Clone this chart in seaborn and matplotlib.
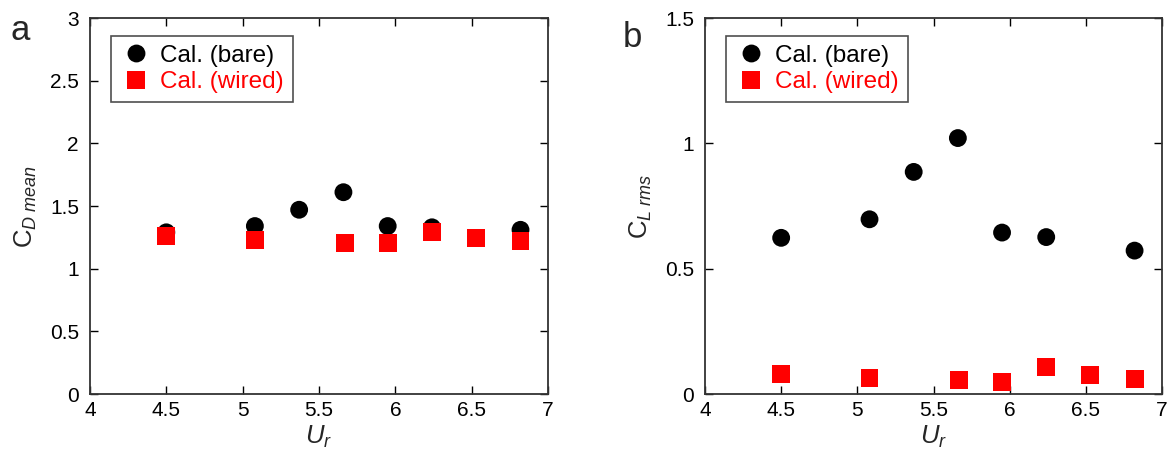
import matplotlib
matplotlib.use("Agg")
import matplotlib.pyplot as plt
import seaborn as sns
import pandas as pd

# ---- data ----
ur_bare = [4.50, 5.08, 5.37, 5.66, 5.95, 6.24, 6.82]
cd_bare = [1.29, 1.34, 1.47, 1.61, 1.34, 1.33, 1.31]
cl_bare = [0.623, 0.697, 0.886, 1.021, 0.644, 0.626, 0.572]

ur_wired = [4.50, 5.08, 5.67, 5.95, 6.24, 6.53, 6.82]
cd_wired = [1.26, 1.232, 1.205, 1.205, 1.293, 1.245, 1.224]
cl_wired = [0.080, 0.065, 0.056, 0.049, 0.109, 0.077, 0.060]

labels = ["Cal. (bare)", "Cal. (wired)"]
x_ticks = [4, 4.5, 5, 5.5, 6, 6.5, 7]
x_ticklabels = ["4", "4.5", "5", "5.5", "6", "6.5", "7"]
ya_ticks = [0, 0.5, 1, 1.5, 2, 2.5, 3]
ya_ticklabels = ["0", "0.5", "1", "1.5", "2", "2.5", "3"]
yb_ticks = [0, 0.5, 1, 1.5]
yb_ticklabels = ["0", "0.5", "1", "1.5"]

df_a = pd.DataFrame({
    "Ur": ur_bare + ur_wired,
    "val": cd_bare + cd_wired,
    "case": [labels[0]] * len(ur_bare) + [labels[1]] * len(ur_wired),
})
df_b = pd.DataFrame({
    "Ur": ur_bare + ur_wired,
    "val": cl_bare + cl_wired,
    "case": [labels[0]] * len(ur_bare) + [labels[1]] * len(ur_wired),
})

sns.set_style("ticks")
plt.rcParams["font.family"] = ["Liberation Sans", "DejaVu Sans"]
plt.rcParams["mathtext.fontset"] = "custom"
plt.rcParams["mathtext.rm"] = "Liberation Sans"
plt.rcParams["mathtext.it"] = "Liberation Sans:italic"

W, H = 1172, 458
fig = plt.figure(figsize=(W / 100, H / 100), dpi=100)

def ax_rect(x0, x1, y0, y1):
    return [x0 / W, 1 - y1 / H, (x1 - x0) / W, (y1 - y0) / H]

ax_a = fig.add_axes(ax_rect(90, 548, 18, 394))
ax_b = fig.add_axes(ax_rect(705, 1162, 18, 394))

palette = {labels[0]: "black", labels[1]: "#ff0000"}
markers = {labels[0]: "o", labels[1]: "s"}

for ax, df, yt, ytl, ylim, ylab in [
    (ax_a, df_a, ya_ticks, ya_ticklabels, (0, 3), r"$\mathrm{C}_{D\ mean}$"),
    (ax_b, df_b, yb_ticks, yb_ticklabels, (0, 1.5), r"$\mathrm{C}_{L\ rms}$"),
]:
    sns.scatterplot(data=df, x="Ur", y="val", hue="case", style="case",
                    palette=palette, markers=markers, s=165, linewidth=0,
                    ax=ax, zorder=3)
    ax.set_xlim(4, 7)
    ax.set_ylim(*ylim)
    ax.set_xticks(x_ticks)
    ax.set_xticklabels(x_ticklabels)
    ax.set_yticks(yt)
    ax.set_yticklabels(ytl)
    ax.tick_params(direction="in", length=6, width=1, top=True, right=True,
                   labelsize=15, colors="black")
    ax.tick_params(axis="y", pad=8)
    ax.tick_params(axis="x", pad=5)
    for sp in ax.spines.values():
        sp.set_visible(True)
        sp.set_linewidth(1.3)
        sp.set_color("#333333")
    ax.set_xlabel(r"$U_r$", fontsize=18.5, labelpad=3)
    ax.set_ylabel(ylab, fontsize=18.5, labelpad=8)
    leg = ax.legend(loc="upper left", bbox_to_anchor=(0.045, 0.952),
                    fontsize=17.5, frameon=True, fancybox=False,
                    edgecolor="#222222", handletextpad=0.3,
                    borderpad=0.35, labelspacing=0.2, handlelength=1.4,
                    borderaxespad=0, markerscale=1.0)
    leg.get_frame().set_linewidth(1.2)
    for txt, lab in zip(leg.get_texts(), labels):
        txt.set_color(palette[lab])

fig.text(10 / W, 1 - 40 / H, "a", fontsize=25, ha="left", va="baseline")
fig.text(623 / W, 1 - 47 / H, "b", fontsize=25, ha="left", va="baseline")

fig.savefig("out.png", dpi=100)
